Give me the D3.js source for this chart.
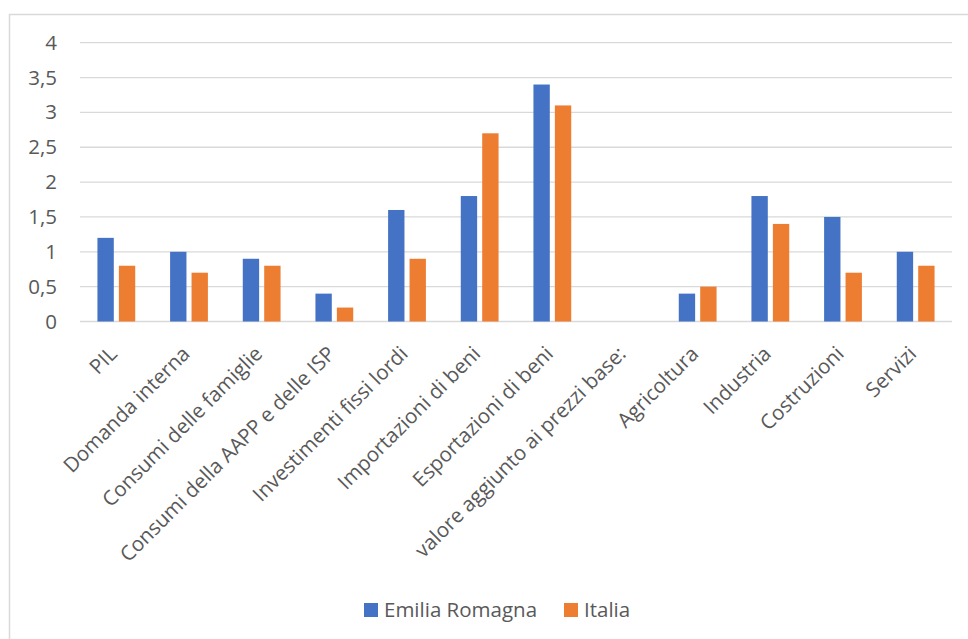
<!DOCTYPE html>
<html>
<head>
<meta charset="utf-8">
<script src="https://cdn.jsdelivr.net/npm/d3@7"></script>
<style>
  html, body { margin: 0; padding: 0; background: #fff; }
  svg { display: block; }
  text { font-family: "Open Sans", "Noto Sans", sans-serif; fill: #595959; }
</style>
</head>
<body>
<svg id="chart" width="968" height="639"></svg>
<script>
// Variazioni percentuali: Emilia Romagna vs Italia
const categories = [
  "PIL", "Domanda interna", "Consumi delle famiglie", "Consumi della AAPP e delle ISP",
  "Investimenti fissi lordi", "Importazioni di beni", "Esportazioni di beni",
  "valore aggiunto ai prezzi base:", "Agricoltura", "Industria", "Costruzioni", "Servizi"
];
const emiliaRomagna = [1.2, 1.0, 0.9, 0.4, 1.6, 1.8, 3.4, null, 0.4, 1.8, 1.5, 1.0];
const italia        = [0.8, 0.7, 0.8, 0.2, 0.9, 2.7, 3.1, null, 0.5, 1.4, 0.7, 0.8];
const seriesNames = ["Emilia Romagna", "Italia"];
const seriesColors = ["#4472C4", "#ED7D31"];
const yTicks = [0, 0.5, 1, 1.5, 2, 2.5, 3, 3.5, 4];

const svg = d3.select("#chart");
const fmt = v => String(v).replace(".", ",");

// chart area frame
svg.append("rect")
  .attr("x", 9.5).attr("y", 14.5)
  .attr("width", 968).attr("height", 640)
  .attr("fill", "none").attr("stroke", "#d9d9d9").attr("stroke-width", 1.5);

const plot = { left: 80, right: 952, top: 42.7, bottom: 321.5 };

const x = d3.scaleBand().domain(categories).range([plot.left, plot.right]);
const y = d3.scaleLinear().domain([0, 4]).range([plot.bottom, plot.top]);

// horizontal gridlines
svg.append("g").selectAll("line").data(yTicks).join("line")
  .attr("x1", plot.left).attr("x2", plot.right)
  .attr("y1", d => y(d)).attr("y2", d => y(d))
  .attr("stroke", "#d9d9d9").attr("stroke-width", 1.3);

// y axis labels
const yAxis = d3.axisLeft(y).tickValues(yTicks).tickFormat(fmt).tickSize(0).tickPadding(0);
const gy = svg.append("g").attr("transform", `translate(${57},0)`).call(yAxis);
gy.select(".domain").remove();
gy.selectAll("text").attr("font-size", 20.5).attr("fill", "#595959")
  .style("font-family", "'Open Sans', sans-serif");

// grouped bars
const barW = x.bandwidth() * 0.225;
const gap = x.bandwidth() * 0.07;
const offsets = [-gap / 2 - barW, gap / 2];
[emiliaRomagna, italia].forEach((vals, s) => {
  svg.append("g").selectAll("rect")
    .data(categories.map((c, i) => ({ c, v: vals[i] })).filter(d => d.v != null))
    .join("rect")
    .attr("x", d => x(d.c) + x.bandwidth() / 2 + offsets[s])
    .attr("y", d => y(d.v))
    .attr("width", barW)
    .attr("height", d => y(0) - y(d.v))
    .attr("fill", seriesColors[s]);
});

// rotated category labels
svg.append("g").selectAll("text").data(categories).join("text")
  .attr("transform", d => `translate(${x(d) + x.bandwidth() / 2 - 3},${350}) rotate(-45)`)
  .attr("text-anchor", "end")
  .attr("dy", "0.35em")
  .attr("font-size", 20.5)
  .text(d => d);

// legend
const legend = svg.append("g").attr("transform", "translate(364,603)");
const items = [{ name: seriesNames[0], x: 0 }, { name: seriesNames[1], x: 200 }];
items.forEach((it, i) => {
  const g = legend.append("g").attr("transform", `translate(${it.x},0)`);
  g.append("rect").attr("width", 14).attr("height", 14).attr("fill", seriesColors[i]);
  g.append("text").attr("x", 20).attr("y", 7).attr("dy", "0.35em")
    .attr("font-size", 20.5).text(it.name);
});
</script>
</body>
</html>
